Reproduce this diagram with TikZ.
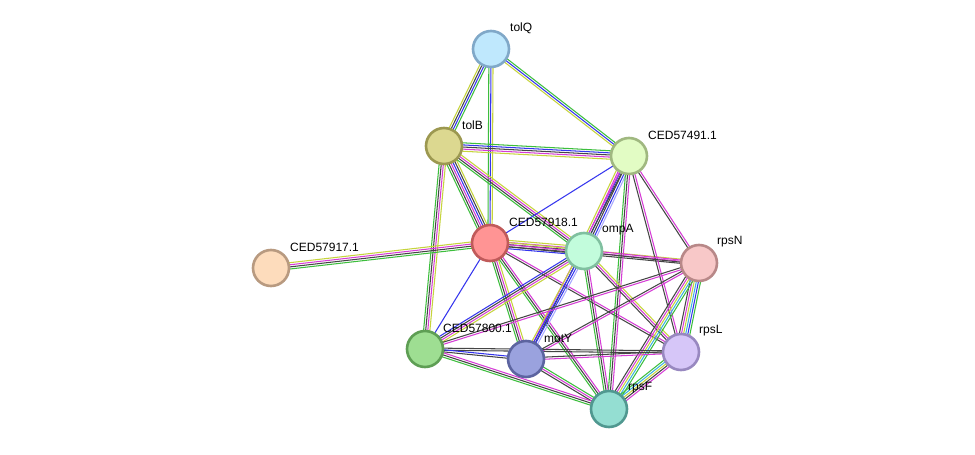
\documentclass[tikz,border=0pt]{standalone}
\usepackage{fontspec}
\setmainfont{Liberation Sans}
\usetikzlibrary{calc}
\pgfdeclarelayer{bglayer}
\pgfdeclarelayer{edgelayer}
\pgfsetlayers{bglayer,edgelayer,main}
\definecolor{eG}{HTML}{3DBE3D}
\definecolor{eB}{HTML}{3535EE}
\definecolor{eK}{HTML}{454545}
\definecolor{eM}{HTML}{D63CD6}
\definecolor{eY}{HTML}{C6D43C}
\definecolor{eC}{HTML}{3CB4E0}
\definecolor{eL}{HTML}{A8A8FF}
\definecolor{fQ}{HTML}{BFE8FD}\definecolor{sQ}{HTML}{80A8C8}
\definecolor{fB}{HTML}{DCD890}\definecolor{sB}{HTML}{9C9850}
\definecolor{fA}{HTML}{E2FCC4}\definecolor{sA}{HTML}{A0B880}
\definecolor{fR}{HTML}{FF9494}\definecolor{sR}{HTML}{C05A5A}
\definecolor{fO}{HTML}{C2FCDC}\definecolor{sO}{HTML}{80C0A0}
\definecolor{fN}{HTML}{F8C8C8}\definecolor{sN}{HTML}{B88888}
\definecolor{fP}{HTML}{FDDCBC}\definecolor{sP}{HTML}{B89A80}
\definecolor{fE}{HTML}{9EDE92}\definecolor{sE}{HTML}{5E9E54}
\definecolor{fM}{HTML}{9AA2DE}\definecolor{sM}{HTML}{5C64A0}
\definecolor{fL}{HTML}{D6C6F8}\definecolor{sL}{HTML}{9888C0}
\definecolor{fF}{HTML}{94DED2}\definecolor{sF}{HTML}{509890}
\newcommand\sedge[3]{%
  \foreach \col [count=\i] in {#3} {\xdef\nn{\i}}%
  \foreach \col [count=\i] in {#3} {%
    \pgfmathsetmacro\off{(\i-(\nn+1)/2)*2.1}%
    \draw[color=\col,line width=1.05pt] ($(#1.center)!\off pt!90:(#2.center)$) -- ($(#2.center)!\off pt!-90:(#1.center)$);
  }}
\tikzset{
  prot/.style 2 args={circle,minimum size=36pt,inner sep=0pt,line width=2.6pt,fill=#1,draw=#2},
  lbl/.style={anchor=west,font=\fontsize{12}{14}\selectfont,text=black,inner sep=0pt}
}
\begin{document}
\begin{tikzpicture}[x=1pt,y=-1pt]
\useasboundingbox (0,0) rectangle (975,455);
\begin{pgfonlayer}{bglayer}
\fill[white] (0,0) rectangle (975,455);
\end{pgfonlayer}
% proteins
\node[prot={fQ}{sQ}] (tolQ) at (491,49) {};
\node[prot={fB}{sB}] (tolB) at (444,146) {};
\node[prot={fA}{sA}] (c491) at (629,156) {};
\node[prot={fR}{sR}] (c918) at (490,243) {};
\node[prot={fO}{sO}] (ompA) at (584,251) {};
\node[prot={fN}{sN}] (rpsN) at (699,263) {};
\node[prot={fP}{sP}] (c917) at (271,268) {};
\node[prot={fE}{sE}] (c800) at (425,349) {};
\node[prot={fM}{sM}] (motY) at (526,359) {};
\node[prot={fL}{sL}] (rpsL) at (681,352) {};
\node[prot={fF}{sF}] (rpsF) at (609,409) {};
% labels
\node[lbl] (ltolQ) at ($(tolQ)+(19,-21)$) {tolQ};
\node[lbl] (ltolB) at ($(tolB)+(18,-21)$) {tolB};
\node[lbl] (lc491) at ($(c491)+(19,-21)$) {CED57491.1};
\node[lbl] (lc918) at ($(c918)+(19,-21)$) {CED57918.1};
\node[lbl] (lompA) at ($(ompA)+(18,-21)$) {ompA};
\node[lbl] (lrpsN) at ($(rpsN)+(18,-21)$) {rpsN};
\node[lbl] (lc917) at ($(c917)+(19,-21)$) {CED57917.1};
\node[lbl] (lc800) at ($(c800)+(18,-21)$) {CED57800.1};
\node[lbl] (lmotY) at ($(motY)+(18,-21)$) {motY};
\node[lbl] (lrpsL) at ($(rpsL)+(18,-21)$) {rpsL};
\node[lbl] (lrpsF) at ($(rpsF)+(19,-21)$) {rpsF};
% interactions
\begin{pgfonlayer}{edgelayer}
\sedge{tolQ}{tolB}{eY,eK,eB,eG}
\sedge{tolQ}{c918}{eG,eB,eY}
\sedge{tolQ}{c491}{eY,eB,eG}
\sedge{tolB}{c491}{eY,eM,eK,eB,eG}
\sedge{tolB}{c918}{eG,eK,eM,eB,eK,eY}
\sedge{tolB}{ompA}{eG,eK,eM,eY}
\sedge{tolB}{c800}{eG,eK,eM,eY}
\sedge{c918}{c491}{eB}
\sedge{c918}{ompA}{eB,eK,eK,eM,eY}
\sedge{c918}{rpsN}{eK,eM,eY}
\sedge{c917}{c918}{eG,eK,eM,eY}
\sedge{c918}{c800}{eB}
\sedge{c918}{motY}{eG,eK,eM,eY}
\sedge{c918}{rpsF}{eG,eK,eM}
\sedge{c918}{rpsL}{eK,eM}
\sedge{c491}{ompA}{eY,eM,eB,eK,eB,eL}
\sedge{c491}{motY}{eM,eK}
\sedge{c491}{rpsF}{eG,eK,eM}
\sedge{c491}{rpsN}{eK,eM}
\sedge{c491}{rpsL}{eK,eM}
\sedge{ompA}{rpsN}{eK,eM}
\sedge{ompA}{motY}{eY,eB,eB,eL}
\sedge{ompA}{rpsF}{eG,eK,eM}
\sedge{ompA}{rpsL}{eK,eM,eY}
\sedge{ompA}{c800}{eB,eK,eM,eY}
\sedge{rpsN}{c800}{eK,eM}
\sedge{rpsN}{motY}{eK,eM}
\sedge{rpsN}{rpsL}{eK,eM,eY,eC,eB,eG}
\sedge{rpsN}{rpsF}{eK,eM,eY,eC,eG}
\sedge{rpsL}{rpsF}{eG,eC,eY,eK,eM}
\sedge{rpsL}{motY}{eK,eM}
\sedge{rpsL}{c800}{eK,eK}
\sedge{motY}{c800}{eB,eK}
\sedge{motY}{rpsF}{eK,eM,eG}
\sedge{c800}{rpsF}{eG,eK,eM}
\end{pgfonlayer}
\end{tikzpicture}
\end{document}
